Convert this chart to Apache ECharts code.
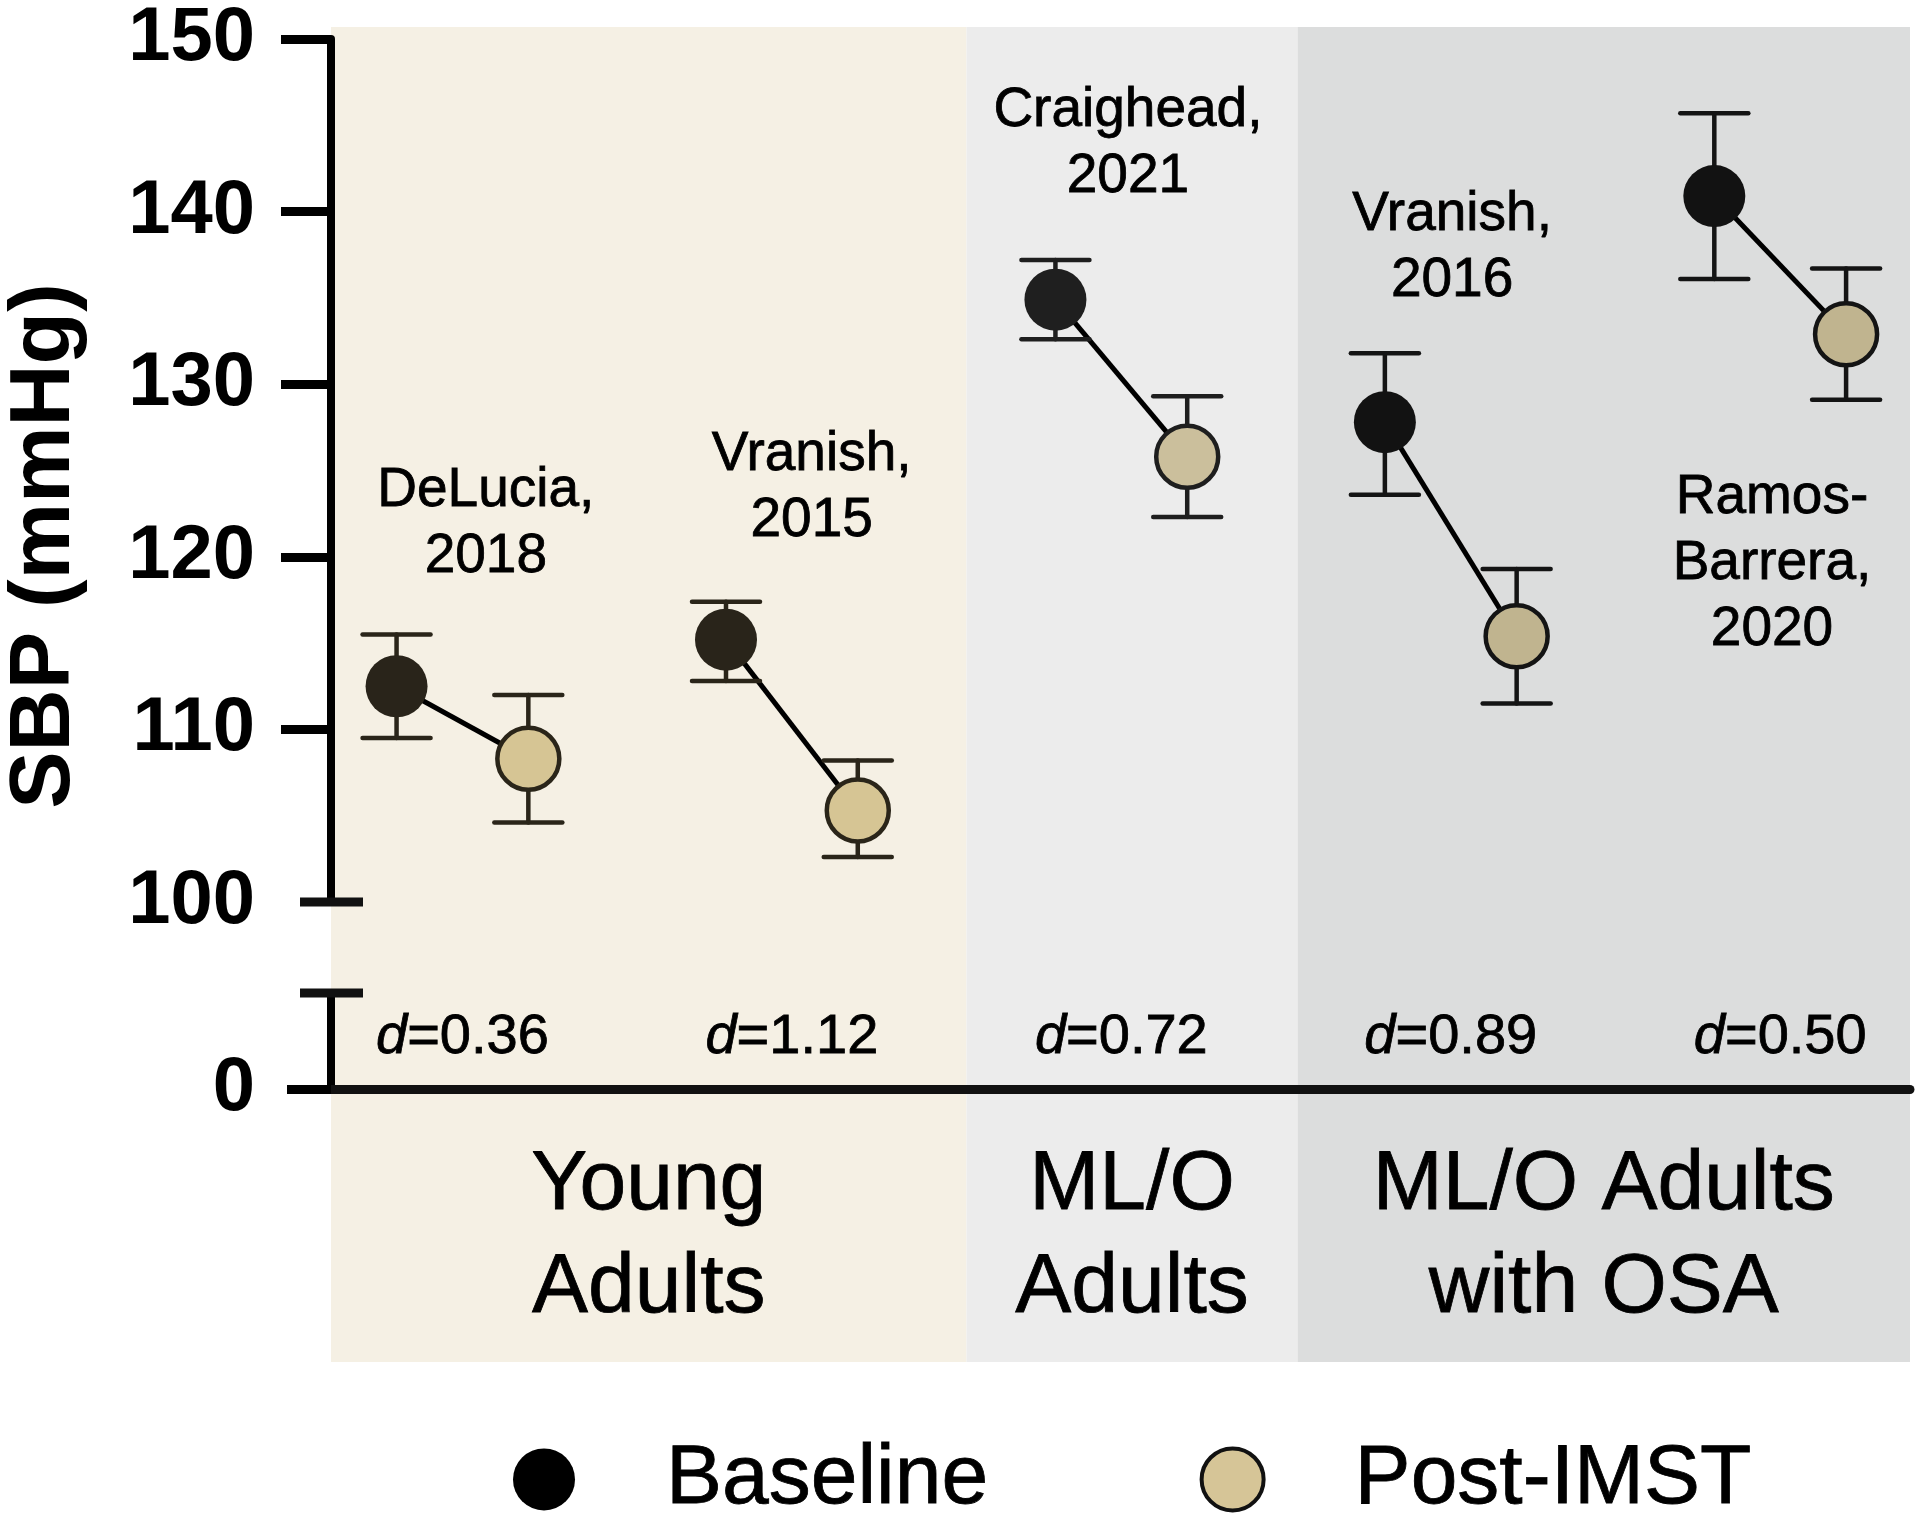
<!DOCTYPE html>
<html>
<head>
<meta charset="utf-8">
<script src="https://cdn.jsdelivr.net/npm/echarts@6/dist/echarts.min.js"></script>
<style>
html,body{margin:0;padding:0;background:#fff;}
#chart{width:1920px;height:1524px;}
</style>
</head>
<body>
<div id="chart"></div>
<script>
// ---------- data ----------
const studies = ['DeLucia,\n2018', 'Vranish,\n2015', 'Craighead,\n2021', 'Vranish,\n2016', 'Ramos-\nBarrera,\n2020'];
const baselineMean  = [112.5, 115.2, 134.9, 127.8, 140.9];
const baselineUpper = [115.5, 117.4, 137.2, 131.8, 145.7];
const baselineLower = [109.5, 112.8, 132.6, 123.6, 136.1];
const postMean  = [108.3, 105.3, 125.8, 115.4, 132.9];
const postUpper = [112.0, 108.2, 129.3, 119.3, 136.7];
const postLower = [104.6, 102.6, 122.3, 111.5, 129.1];
const effectSizes = ['0.36', '1.12', '0.72', '0.89', '0.50'];
const groups = ['Young\nAdults', 'ML/O\nAdults', 'ML/O Adults\nwith OSA'];
const studyGroup = [0, 0, 1, 2, 2];
const yTicks = [100, 110, 120, 130, 140, 150];
const seriesNames = ['Baseline', 'Post-IMST'];

// ---------- layout / style ----------
const FONT = '"Liberation Sans", Arial, Helvetica, sans-serif';
const X_MIN = -0.399, X_MAX = 4.394;
const OFFSET = 0.2;
const regionEdges = [X_MIN, 1.53, 2.535, X_MAX];
const regionBg = ['#f5f0e4', '#ececec', '#dcdddd'];
const baseFill = ['#29241a', '#1f1f1f', '#121212'];
const postFill = ['#d6c594', '#cbbf9c', '#c0b48f'];
const inkCol = ['#2a2519', '#1e1e1e', '#141414'];
const studyLabelAnchor = [[0.071, 121.9], [1.06, 124.0], [2.02, 143.9], [3.004, 137.9], [3.975, 119.6]];
const GRID_L = 331, GRID_R = 10;
const TXT = {color: '#000', fontFamily: FONT, textBorderColor: '#000', textBorderWidth: 0.8, opacity: 1};

const chart = echarts.init(document.getElementById('chart'), null, {renderer: 'canvas'});

const errData = [];
studies.forEach((s, i) => {
  errData.push([i - OFFSET, baselineLower[i], baselineUpper[i], studyGroup[i]]);
  errData.push([i + OFFSET, postLower[i], postUpper[i], studyGroup[i]]);
});

function hiddenX(gi) {
  return {type: 'value', gridIndex: gi, min: X_MIN, max: X_MAX, show: false, splitLine: {show: false}};
}
const labelHolder = {symbolSize: 0, itemStyle: {color: 'transparent', opacity: 1}, silent: true};

const option = {
  animation: false,
  backgroundColor: '#ffffff',
  textStyle: {fontFamily: FONT},
  grid: [
    {left: GRID_L, right: GRID_R, top: 39, height: 863},
    {left: GRID_L, right: GRID_R, top: 993, height: 96},
    {left: GRID_L, right: GRID_R, top: 27, height: 1335}
  ],
  xAxis: [
    hiddenX(0),
    {type: 'value', gridIndex: 1, min: X_MIN, max: X_MAX, z: 5,
     axisLine: {show: true, onZero: false, lineStyle: {color: '#111', width: 9}},
     axisTick: {show: false}, axisLabel: {show: false}, splitLine: {show: false}},
    hiddenX(2)
  ],
  yAxis: [
    {type: 'value', gridIndex: 0, min: yTicks[0], max: yTicks[yTicks.length - 1], interval: 10, z: 5,
     axisLine: {show: true, onZero: false, lineStyle: {color: '#000', width: 8}},
     axisTick: {show: true, customValues: yTicks.slice(1), length: 50, lineStyle: {color: '#000', width: 9}},
     axisLabel: {fontSize: 76, fontWeight: 'bold', color: '#000', margin: 76, fontFamily: FONT},
     splitLine: {show: false}},
    {type: 'value', gridIndex: 1, min: 0, max: 10, interval: 10, z: 5,
     axisLine: {show: true, onZero: false, lineStyle: {color: '#000', width: 8}},
     axisTick: {show: true, customValues: [0], length: 44, lineStyle: {color: '#000', width: 9}},
     axisLabel: {customValues: [0], fontSize: 76, fontWeight: 'bold', color: '#000', margin: 76, fontFamily: FONT},
     splitLine: {show: false}},
    {type: 'value', gridIndex: 2, min: 0, max: 1, show: false, splitLine: {show: false}}
  ],
  legend: {
    left: 508, top: 1432, itemWidth: 62, itemHeight: 62, itemGap: 211,
    selectedMode: false, icon: 'circle',
    textStyle: Object.assign({fontSize: 84, padding: [0, 0, 0, 86]}, TXT),
    data: [
      {name: seriesNames[0], itemStyle: {color: '#000', borderWidth: 0}},
      {name: seriesNames[1], itemStyle: {color: '#d6c597', borderColor: '#111', borderWidth: 4}}
    ]
  },
  series: [
    // backgrounds + group labels
    Object.assign({
      type: 'scatter', xAxisIndex: 2, yAxisIndex: 2, z: 1,
      data: groups.map((g, k) => ({name: g, value: [(regionEdges[k] + regionEdges[k + 1]) / 2, 0.0936]})),
      label: Object.assign({show: true, position: 'inside', formatter: p => p.name, fontSize: 84, lineHeight: 103}, TXT),
      markArea: {
        silent: true,
        data: groups.map((g, k) => [
          {xAxis: regionEdges[k], itemStyle: {color: regionBg[k], opacity: 1}},
          {xAxis: regionEdges[k + 1]}
        ])
      }
    }, labelHolder),
    // connecting lines
    {
      type: 'custom', xAxisIndex: 0, yAxisIndex: 0, z: 3, silent: true,
      data: studies.map((s, i) => [i, baselineMean[i], postMean[i]]),
      renderItem: (params, api) => {
        const i = api.value(0);
        const p1 = api.coord([i - OFFSET, api.value(1)]);
        const p2 = api.coord([i + OFFSET, api.value(2)]);
        return {type: 'line', shape: {x1: p1[0], y1: p1[1], x2: p2[0], y2: p2[1]},
                style: {stroke: '#000', lineWidth: 5}};
      }
    },
    // error bars
    {
      type: 'custom', xAxisIndex: 0, yAxisIndex: 0, z: 3, silent: true,
      data: errData,
      renderItem: (params, api) => {
        const x = api.value(0);
        const lo = api.coord([x, api.value(1)]);
        const hi = api.coord([x, api.value(2)]);
        const c = inkCol[api.value(3)];
        const half = 34;
        const st = {stroke: c, lineWidth: 4.5, lineCap: 'round'};
        return {type: 'group', children: [
          {type: 'line', shape: {x1: lo[0], y1: lo[1], x2: hi[0], y2: hi[1]}, style: st},
          {type: 'line', shape: {x1: hi[0] - half, y1: hi[1], x2: hi[0] + half, y2: hi[1]}, style: st},
          {type: 'line', shape: {x1: lo[0] - half, y1: lo[1], x2: lo[0] + half, y2: lo[1]}, style: st}
        ]};
      }
    },
    // baseline points
    {
      name: seriesNames[0], type: 'scatter', xAxisIndex: 0, yAxisIndex: 0, z: 4,
      symbol: 'circle', symbolSize: 62, itemStyle: {color: '#000', opacity: 1},
      data: baselineMean.map((v, i) => ({value: [i - OFFSET, v], itemStyle: {color: baseFill[studyGroup[i]]}}))
    },
    // post points
    {
      name: seriesNames[1], type: 'scatter', xAxisIndex: 0, yAxisIndex: 0, z: 4,
      symbol: 'circle', symbolSize: 62, itemStyle: {color: '#d6c597', borderColor: '#111', borderWidth: 4.5, opacity: 1},
      data: postMean.map((v, i) => ({value: [i + OFFSET, v],
        itemStyle: {color: postFill[studyGroup[i]], borderColor: inkCol[studyGroup[i]]}}))
    },
    // study labels
    Object.assign({
      type: 'scatter', xAxisIndex: 0, yAxisIndex: 0, z: 4,
      data: studies.map((s, i) => ({name: s, value: studyLabelAnchor[i]})),
      label: Object.assign({show: true, position: 'inside', formatter: p => p.name, fontSize: 55, lineHeight: 66}, TXT)
    }, labelHolder),
    // effect sizes
    Object.assign({
      type: 'scatter', xAxisIndex: 1, yAxisIndex: 1, z: 4,
      data: effectSizes.map((d, i) => ({name: d, value: [i, 5.4]})),
      label: {show: true, position: 'inside', opacity: 1, formatter: p => '{i|d}{n|=' + p.name + '}',
              rich: {i: Object.assign({fontStyle: 'italic', fontSize: 56}, TXT),
                     n: Object.assign({fontSize: 56}, TXT)}}
    }, labelHolder)
  ]
};

chart.setOption(option);

// axis break caps and y-axis title
const axisX = chart.convertToPixel({xAxisIndex: 0}, X_MIN);
const yCapTop = chart.convertToPixel({yAxisIndex: 0}, yTicks[0]);
const yCapBot = chart.convertToPixel({yAxisIndex: 1}, 10);
const capStyle = {stroke: '#111', lineWidth: 9};
chart.setOption({
  graphic: [
    {type: 'line', z: 10, shape: {x1: axisX - 31, y1: yCapTop, x2: axisX + 32, y2: yCapTop}, style: capStyle},
    {type: 'line', z: 10, shape: {x1: axisX - 31, y1: yCapBot, x2: axisX + 32, y2: yCapBot}, style: capStyle},
    {type: 'text', x: 45, y: 546, rotation: Math.PI / 2, z: 10,
     style: {text: 'SBP (mmHg)', fontSize: 86, fontWeight: 'bold', fontFamily: FONT, fill: '#000',
             textAlign: 'center', textVerticalAlign: 'middle', align: 'center', verticalAlign: 'middle'}}
  ]
});
</script>
</body>
</html>
